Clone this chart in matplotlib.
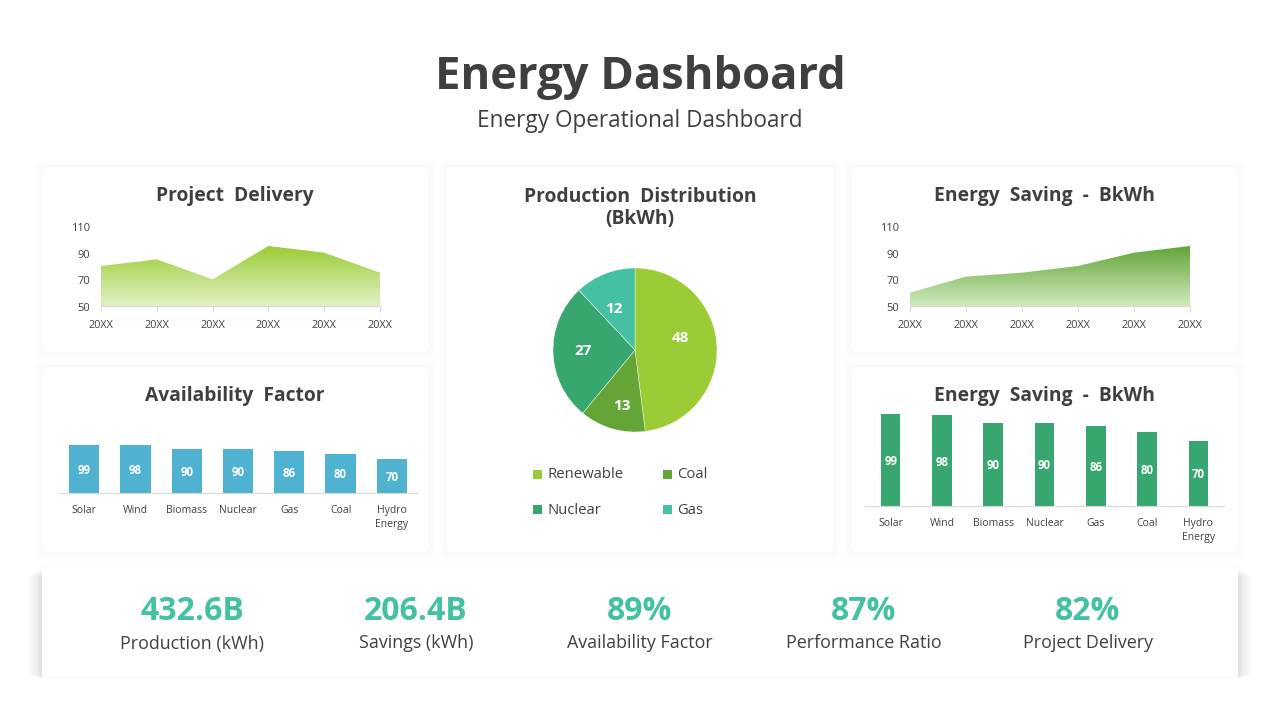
import numpy as np
import matplotlib
matplotlib.use("Agg")
import matplotlib.pyplot as plt
from matplotlib.patches import FancyBboxPatch, Rectangle
from matplotlib.colors import LinearSegmentedColormap
from matplotlib.transforms import ScaledTranslation

plt.rcParams['font.family'] = ['Open Sans', 'DejaVu Sans']

title_text = "Energy Dashboard"
subtitle_text = "Energy Operational Dashboard"
years = ["20XX"] * 6
delivery = [80, 85, 70, 95, 90, 75]
saving_area = [60, 72, 75, 80, 90, 95]
y_ticks = [50, 70, 90, 110]
bar_cats = ["Solar", "Wind", "Biomass", "Nuclear", "Gas", "Coal", "Hydro\nEnergy"]
bar_vals = [99, 98, 90, 90, 86, 80, 70]
pie_labels = ["Renewable", "Coal", "Nuclear", "Gas"]
pie_vals = [48, 13, 27, 12]
pie_cols = ["#9BCC36", "#63A537", "#37A76F", "#44C1A3"]
kpi_vals = ["432.6B", "206.4B", "89%", "87%", "82%"]
kpi_labels = ["Production (kWh)", "Savings (kWh)", "Availability Factor", "Performance Ratio", "Project Delivery"]

W, H = 1280, 720
DARK = "#3F3F3F"
MID = "#404040"
fig = plt.figure(figsize=(12.8, 7.2), dpi=100, facecolor="white")
bg = fig.add_axes([0, 0, 1, 1])
bg.set_xlim(0, W); bg.set_ylim(H, 0); bg.axis("off")


def card(x0, y0, x1, y1, r=6, spread=6, alpha=0.004):
    for i in range(spread, 0, -1):
        bg.add_patch(FancyBboxPatch((x0 - i + r, y0 - i + r), x1 - x0 + 2 * i - 2 * r, y1 - y0 + 2 * i - 2 * r,
                                    boxstyle=f"round,pad={r},rounding_size={r}", fc="black", ec="none", alpha=alpha))
    bg.add_patch(FancyBboxPatch((x0 + r, y0 + r), x1 - x0 - 2 * r, y1 - y0 - 2 * r,
                                boxstyle=f"round,pad={r},rounding_size={r}", fc="white", ec="none"))


def axes_px(x0, y0, x1, y1):
    a = fig.add_axes([x0 / W, 1 - y1 / H, (x1 - x0) / W, (y1 - y0) / H])
    a.patch.set_alpha(0)
    return a


card(42, 167, 429, 352)
card(42, 367, 429, 552)
card(446, 167, 834, 552)
card(851, 167, 1238, 352)
card(851, 367, 1238, 552)
# soft side shadow of the bottom band
for i in range(1, 15):
    y0, y1 = 568 + i * 0.6, 680 - i * 0.4
    bg.add_patch(Rectangle((42 - i, y0), i, y1 - y0, fc="black", ec="none", alpha=0.009, lw=0))
    bg.add_patch(Rectangle((1238, y0), i, y1 - y0, fc="black", ec="none", alpha=0.009, lw=0))
card(42, 567, 1238, 676, r=3, spread=4, alpha=0.005)

bg.text(640, 77, title_text, ha="center", va="center", fontsize=32.7, fontweight="bold", color=DARK)
bg.text(640, 121, subtitle_text, ha="center", va="center", fontsize=16.3, color=MID)
for x, y, t in [(235, 196, "Project  Delivery"), (235, 395.5, "Availability  Factor"),
                (640, 208, "Production  Distribution\n(BkWh)"), (1044, 196, "Energy  Saving  -  BkWh"),
                (1044, 395.5, "Energy  Saving  -  BkWh")]:
    bg.text(x, y, t, ha="center", va="center", fontsize=13.85, fontweight="bold", color=DARK, linespacing=1.15)


def area(rect, vals, top, bottom):
    ax = axes_px(*rect)
    xs = np.arange(len(vals))
    cmap = LinearSegmentedColormap.from_list("g", [bottom, top])
    grad = np.linspace(0, 1, 256).reshape(-1, 1)
    vmax = max(vals)
    im = ax.imshow(grad, extent=(0, len(vals) - 1, 50, vmax), origin="lower", aspect="auto", cmap=cmap, zorder=1)
    poly = ax.fill_between(xs, vals, 50, color="none")
    im.set_clip_path(poly.get_paths()[0], transform=ax.transData)
    ax.set_xlim(0, len(vals) - 1); ax.set_ylim(50, 110)
    for s in ["top", "left", "right"]:
        ax.spines[s].set_visible(False)
    ax.spines["bottom"].set_color("#D9D9D9")
    ax.set_xticks(xs, years)
    ax.set_yticks(y_ticks)
    ax.tick_params(axis="x", length=4, color="#D9D9D9", labelsize=7.8, labelcolor=MID, pad=6)
    ax.tick_params(axis="y", length=0, labelsize=8, labelcolor=MID, pad=8)
    nudge = ScaledTranslation(0, -1 / 100, fig.dpi_scale_trans)
    for l in ax.get_yticklabels():
        l.set_transform(l.get_transform() + nudge)
    return ax


area((101, 226, 380, 306), delivery, "#9BCC36", "#E2F1C4")
area((910, 226, 1190, 306), saving_area, "#63A537", "#D0EABD")


def bars(rect, vals, col, width, ymax):
    ax = axes_px(*rect)
    ax.set_xlim(-0.5, len(vals) - 0.5); ax.set_ylim(0, ymax)
    b = ax.bar(np.arange(len(vals)), vals, width=width, color=col)
    for r, v in zip(b, vals):
        ax.annotate(str(v), (r.get_x() + r.get_width() / 2, v / 2), xytext=(0, -1), textcoords="offset points",
                    ha="center", va="center", color="white", fontsize=8.3, fontweight="bold")
    for s in ["top", "left", "right"]:
        ax.spines[s].set_visible(False)
    ax.spines["bottom"].set_color("#D9D9D9")
    ax.set_yticks([])
    ax.set_xticks(np.arange(len(vals)), bar_cats)
    ax.tick_params(axis="x", length=0, labelsize=7.5, labelcolor=MID, pad=8.5)
    for l in ax.get_xticklabels():
        l.set_linespacing(1.42)
    return ax


bars((58.5, 426, 417.5, 493), bar_vals, "#4EB2D0", 0.59, 138)
bars((865, 406, 1224, 506), bar_vals, "#37A76F", 0.38, 108)

pie_ax = axes_px(553, 268, 717, 432)
pie_ax.pie(pie_vals, colors=pie_cols, startangle=90, counterclock=False, radius=1.0,
           wedgeprops=dict(ec="white", lw=0.3))
pie_ax.set_xlim(-1, 1); pie_ax.set_ylim(-1, 1)
# label anchors inside the slices, as fractions of the radius
pie_anchor = [(0.55, 0.16), (-0.16, -0.67), (-0.63, 0.0), (-0.26, 0.51)]
for (ax_, ay_), v in zip(pie_anchor, pie_vals):
    pie_ax.annotate(str(v), (ax_, ay_), xytext=(0, -0.5), textcoords="offset points", ha="center", va="center",
                    color="white", fontsize=11, fontweight="bold")

for (px, py), lab, c in zip([(533, 474.5), (663, 474.5), (533, 509.5), (663, 509.5)], pie_labels, pie_cols):
    bg.add_patch(Rectangle((px, py - 4.5), 9, 9, fc=c, ec="none"))
    bg.text(px + 14.5, py + 0.5, lab, ha="left", va="center", fontsize=10.7, color=MID)

for x, v, l in zip([192, 416, 640, 864, 1088], kpi_vals, kpi_labels):
    bg.text(x, 611, v, ha="center", va="center", fontsize=23, fontweight="bold", color="#44C1A3")
    bg.text(x, 643.5, l, ha="center", va="center", fontsize=12.85, color=MID)

fig.savefig("out.png", dpi=100, facecolor="white")
